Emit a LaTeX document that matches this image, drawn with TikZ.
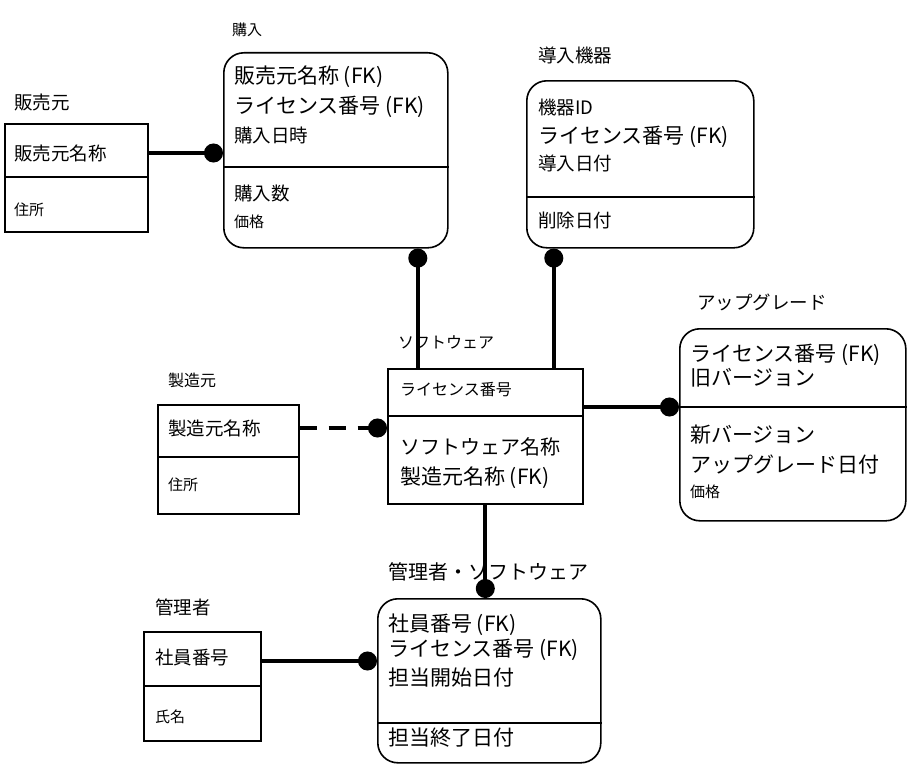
\documentclass[tikz,border=0pt]{standalone}
\usepackage{fontspec}
\setmainfont{Noto Sans CJK JP}
\usepackage{tikz}
\usetikzlibrary{arrows.meta}
\newcommand{\fbig}{\fontsize{21pt}{24pt}\selectfont}
\newcommand{\fmid}{\fontsize{18.5pt}{21pt}\selectfont}
\newcommand{\fsmd}{\fontsize{16pt}{19pt}\selectfont}
\newcommand{\fsml}{\fontsize{15pt}{17pt}\selectfont}
\begin{document}
\begin{tikzpicture}[x=1pt,y=-1pt,
  ent/.style={draw,line width=1.6pt,anchor=north west,inner sep=0pt},
  rent/.style={ent,rounded corners=20pt},
  txt/.style={anchor=west,inner sep=0pt},
  rel/.style={line width=3.8pt,-{Circle[length=19pt,width=19pt]}},
  divi/.style={line width=1.6pt}]
\useasboundingbox (0,0) rectangle (910,768);
%Boxes
\node [ent,minimum width=143pt,minimum height=108pt] (hanbai) at (4,123) {};
\node [rent,minimum width=224pt,minimum height=195pt] (kounyu) at (223,52) {};
\node [rent,minimum width=227pt,minimum height=167pt] (dounyu) at (526,80) {};
\node [ent,minimum width=195pt,minimum height=135pt] (soft) at (387,368) {};
\node [ent,minimum width=141pt,minimum height=109pt] (seizo) at (157,404) {};
\node [rent,minimum width=226pt,minimum height=192pt] (upg) at (679,328) {};
\node [ent,minimum width=117pt,minimum height=109pt] (kanri) at (143,631) {};
\node [rent,minimum width=223pt,minimum height=164pt] (kansw) at (377,598) {};
%Dividers
\coordinate (hbDiv) at (4,177);
\coordinate (kyDiv) at (223,167);
\coordinate (dnDiv) at (526,197);
\coordinate (swDiv) at (387,416);
\coordinate (szDiv) at (157,457);
\coordinate (upDiv) at (679,407);
\coordinate (kmDiv) at (143,686);
\coordinate (ksDiv) at (377,723);
\draw [divi] (hbDiv) -- (hanbai.east |- hbDiv);
\draw [divi] (kyDiv) -- (kounyu.east |- kyDiv);
\draw [divi] (dnDiv) -- (dounyu.east |- dnDiv);
\draw [divi] (swDiv) -- (soft.east |- swDiv);
\draw [divi] (szDiv) -- (seizo.east |- szDiv);
\draw [divi] (upDiv) -- (upg.east |- upDiv);
\draw [divi] (kmDiv) -- (kanri.east |- kmDiv);
\draw [divi] (ksDiv) -- (kansw.east |- ksDiv);
%Text
\node [txt] (hbTitle) at (14,102) {\fmid 販売元};
\node [txt] (hbKey) at (14,153) {\fmid 販売元名称};
\node [txt] (hbAddr) at (14,210) {\fsml 住所};
\node [txt] (kyTitle) at (232,30) {\fsml 購入};
\node [txt] (kyKey1) at (234,77) {\fbig 販売元名称 (FK)};
\node [txt] (kyKey2) at (234,107) {\fbig ライセンス番号 (FK)};
\node [txt] (kyKey3) at (234,135) {\fmid 購入日時};
\node [txt] (kyNum) at (234,193) {\fmid 購入数};
\node [txt] (kyPrice) at (234,222) {\fsml 価格};
\node [txt] (dnTitle) at (538,55) {\fmid 導入機器};
\node [txt] (dnKey1) at (538,107) {\fmid 機器ID};
\node [txt] (dnKey2) at (538,137) {\fbig ライセンス番号 (FK)};
\node [txt] (dnKey3) at (538,163) {\fmid 導入日付};
\node [txt] (dnDel) at (538,220) {\fmid 削除日付};
\node [txt] (swTitle) at (398,342) {\fsmd ソフトウェア};
\node [txt] (swKey) at (400,390) {\fsmd ライセンス番号};
\node [txt] (swName) at (400,447) {\fontsize{20pt}{23pt}\selectfont ソフトウェア名称};
\node [txt] (swMaker) at (400,478) {\fbig 製造元名称 (FK)};
\node [txt] (szTitle) at (168,380) {\fsmd 製造元};
\node [txt] (szKey) at (168,428) {\fmid 製造元名称};
\node [txt] (szAddr) at (168,485) {\fsml 住所};
\node [txt] (upTitle) at (697,302) {\fmid アップグレード};
\node [txt] (upKey1) at (690,355) {\fbig ライセンス番号 (FK)};
\node [txt] (upKey2) at (690,378) {\fbig 旧バージョン};
\node [txt] (upNew) at (690,435) {\fbig 新バージョン};
\node [txt] (upDate) at (690,465) {\fbig アップグレード日付};
\node [txt] (upPrice) at (690,492) {\fsml 価格};
\node [txt] (kmTitle) at (155,607) {\fmid 管理者};
\node [txt] (kmKey) at (155,657) {\fmid 社員番号};
\node [txt] (kmName) at (155,717) {\fsml 氏名};
\node [txt] (ksTitle) at (388,572) {\fontsize{20pt}{23pt}\selectfont 管理者・ソフトウェア};
\node [txt] (ksKey1) at (388,625) {\fbig 社員番号 (FK)};
\node [txt] (ksKey2) at (388,650) {\fbig ライセンス番号 (FK)};
\node [txt] (ksKey3) at (388,678) {\fbig 担当開始日付};
\node [txt] (ksEnd) at (388,738) {\fbig 担当終了日付};
%Connectors
\draw [rel] (hanbai.east |- hbKey) -- (kounyu.west |- hbKey);
\draw [rel] ([xshift=82pt]kounyu.south |- soft.north) -- ([xshift=82pt]kounyu.south);
\draw [rel] ([xshift=-86.5pt]dounyu.south |- soft.north) -- ([xshift=-86.5pt]dounyu.south);
\draw [rel,dash pattern=on 17pt off 12pt] (seizo.east |- szKey) -- (soft.west |- szKey);
\draw [rel] (soft.east |- upDiv) -- (upDiv);
\draw [rel] (soft.south) -- (kansw.north -| soft.south);
\draw [rel] (kanri.east |- 0,661) -- (kansw.west |- 0,661);
\end{tikzpicture}
\end{document}
